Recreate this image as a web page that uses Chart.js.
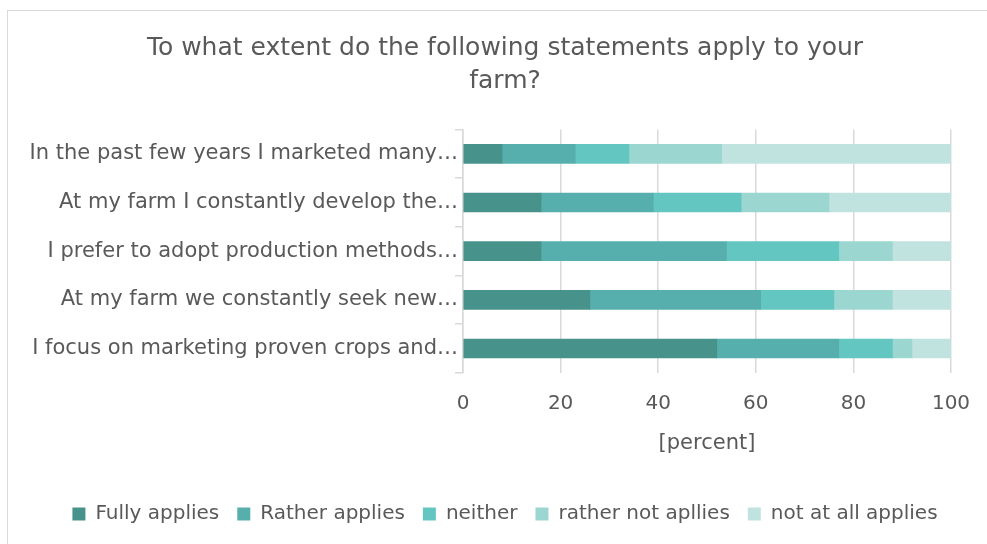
<!DOCTYPE html>
<html>
<head>
<meta charset="utf-8">
<script src="https://cdn.jsdelivr.net/npm/chart.js@4"></script>
<style>
  html, body { margin: 0; padding: 0; overflow: hidden; background: #fff; }
  #frame { position: absolute; left: 7px; top: 10px; width: 1010px; height: 600px; border: 1px solid #d9d9d9; }
  #wrap { position: absolute; left: 7px; top: 10px; }
</style>
</head>
<body>
<div id="frame"></div>
<div id="wrap"><canvas id="myChart" width="996" height="534"></canvas></div>
<script>
// statements, top to bottom as shown
var categories = [
    'In the past few years I marketed many\u2026',
    'At my farm I constantly develop the\u2026',
    'I prefer to adopt production methods\u2026',
    'At my farm we constantly seek new\u2026',
    'I focus on marketing proven crops and\u2026'
];
var fullyApplies = [8, 16, 16, 26, 52];
var ratherApplies = [15, 23, 38, 35, 25];
var neither = [11, 18, 23, 15, 11];
var ratherNotApplies = [19, 18, 11, 12, 4];
var notAtAllApplies = [47, 25, 12, 12, 8];
var xTicks = [0, 20, 40, 60, 80, 100];

var font = 'Tahoma, "DejaVu Sans", sans-serif';
var grey = '#595959';

var ctx = document.getElementById('myChart').getContext('2d');
var myChart = new Chart(ctx, {
    type: 'bar',
    data: {
        labels: categories,
        datasets: [
            { label: 'Fully applies', data: fullyApplies, backgroundColor: '#47938c' },
            { label: 'Rather applies', data: ratherApplies, backgroundColor: '#56afac' },
            { label: 'neither', data: neither, backgroundColor: '#63c6c0' },
            { label: 'rather not apllies', data: ratherNotApplies, backgroundColor: '#9cd6d1' },
            { label: 'not at all applies', data: notAtAllApplies, backgroundColor: '#c1e3df' }
        ]
    },
    options: {
        indexAxis: 'y',
        responsive: false,
        animation: false,
        datasets: { bar: { barThickness: 19 } },
        layout: { padding: { left: 0, right: 0, top: 0, bottom: 10 } },
        plugins: {
            title: {
                display: true,
                text: ['To what extent do the following statements apply to your', 'farm?'],
                color: grey,
                font: { family: font, size: 25, weight: 'normal', lineHeight: 1.33 },
                padding: { top: 22, bottom: 31 }
            },
            legend: {
                position: 'bottom',
                labels: {
                    color: grey,
                    font: { family: font, size: 20 },
                    boxWidth: 13,
                    boxHeight: 13,
                    padding: 18
                }
            },
            tooltip: { enabled: false }
        },
        scales: {
            x: {
                stacked: true,
                min: 0,
                max: 100,
                afterBuildTicks: function(axis) {
                    axis.ticks = xTicks.map(function(v) { return { value: v }; });
                },
                grid: { color: '#d9d9d9', lineWidth: 1.5, drawTicks: false },
                border: { display: false },
                ticks: { color: grey, font: { family: font, size: 20 }, padding: 19 },
                title: {
                    display: true,
                    text: '[percent]',
                    color: grey,
                    font: { family: font, size: 21 },
                    padding: { top: -4, bottom: 30 }
                }
            },
            y: {
                stacked: true,
                grid: { color: '#d9d9d9', lineWidth: 1.5, drawOnChartArea: false, offset: true, tickLength: 8 },
                border: { color: '#d9d9d9', width: 1.5 },
                ticks: { color: grey, font: { family: font, size: 21 }, padding: -3 },
                afterFit: function(axis) { axis.width = 456; }
            },
            // empty right-hand strip so the plot ends where the reference does
            yRight: {
                type: 'category',
                position: 'right',
                grid: { display: false },
                border: { display: false },
                ticks: { display: false },
                afterFit: function(axis) { axis.width = 52; }
            }
        }
    }
});
</script>
</body>
</html>
